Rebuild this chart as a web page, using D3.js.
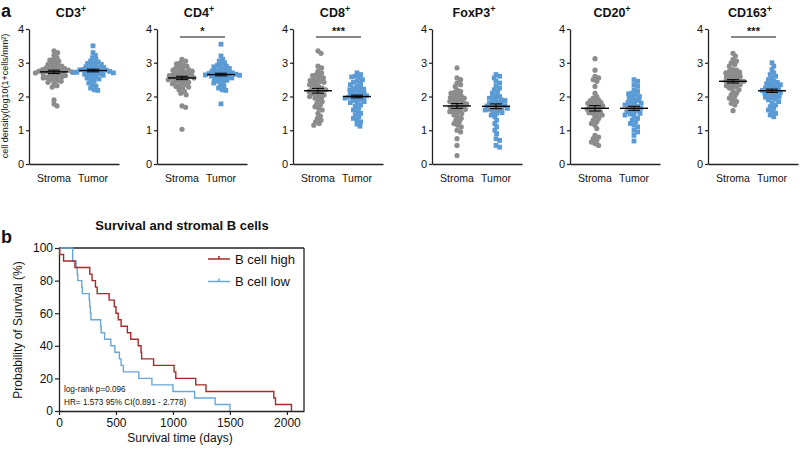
<!DOCTYPE html>
<html><head><meta charset="utf-8">
<script src="https://cdn.jsdelivr.net/npm/d3@7"></script>
<style>body{margin:0;background:#fff} svg{display:block} text{font-family:"Liberation Sans",Arial,sans-serif;fill:#111}</style>
</head><body><svg id="c" width="800" height="449"></svg>
<script>
// ---------- Panel a data ----------
const markers = ["CD3","CD4","CD8","FoxP3","CD20","CD163"];
const groups = ["Stroma","Tumor"];
const yTicksA = [0,1,2,3,4];
const cd3Stroma = [3.35,3.3,3.22,3.15,3.1,3.08,3.05,3.0,2.98,2.95,2.93,2.9,2.88,2.87,2.85,2.83,2.82,2.8,2.79,2.78,2.77,2.76,2.75,2.74,2.73,2.72,2.71,2.7,2.68,2.67,2.65,2.63,2.62,2.6,2.58,2.56,2.55,2.52,2.5,2.48,2.45,2.42,2.38,2.32,2.28,1.9,1.78,1.72];
const cd3Tumor = [3.5,3.3,3.22,3.15,3.1,3.05,3.02,3.0,2.98,2.95,2.92,2.9,2.88,2.86,2.85,2.83,2.82,2.8,2.79,2.78,2.77,2.76,2.75,2.74,2.73,2.72,2.71,2.7,2.69,2.68,2.66,2.65,2.63,2.6,2.58,2.55,2.52,2.5,2.45,2.4,2.35,2.3,2.25,2.2,2.18];
const cd4Stroma = [3.1,3.05,3.0,2.97,2.93,2.9,2.88,2.85,2.82,2.8,2.78,2.76,2.75,2.72,2.7,2.68,2.66,2.65,2.63,2.62,2.6,2.58,2.57,2.56,2.55,2.54,2.52,2.5,2.48,2.46,2.44,2.42,2.4,2.38,2.35,2.32,2.3,2.28,2.25,2.2,2.15,2.1,2.05,1.72,1.68,1.03];
const cd4Tumor = [3.55,3.2,3.1,3.05,3.0,2.95,2.92,2.9,2.88,2.85,2.83,2.8,2.78,2.76,2.75,2.73,2.72,2.7,2.69,2.68,2.67,2.66,2.65,2.64,2.63,2.62,2.6,2.6,2.58,2.56,2.55,2.53,2.5,2.48,2.45,2.42,2.4,2.35,2.3,2.25,2.2,2.18,1.78];
const cd8Stroma = [3.35,3.28,2.9,2.85,2.75,2.7,2.65,2.62,2.6,2.55,2.52,2.5,2.48,2.45,2.42,2.4,2.38,2.35,2.3,2.28,2.25,2.22,2.2,2.18,2.15,2.12,2.1,2.08,2.05,2.02,2.0,1.97,1.95,1.9,1.85,1.8,1.75,1.7,1.65,1.6,1.5,1.42,1.35,1.3,1.25,1.2,1.15];
const cd8Tumor = [2.7,2.65,2.6,2.58,2.55,2.5,2.45,2.42,2.4,2.35,2.3,2.28,2.25,2.22,2.2,2.18,2.15,2.12,2.1,2.08,2.05,2.03,2.02,2.0,1.98,1.96,1.95,1.92,1.9,1.88,1.85,1.82,1.8,1.75,1.7,1.65,1.6,1.55,1.5,1.45,1.4,1.35,1.3,1.25,1.18,1.12];
const foxp3Stroma = [2.85,2.55,2.5,2.4,2.35,2.3,2.2,2.15,2.12,2.1,2.05,2.02,2.0,1.97,1.95,1.92,1.9,1.88,1.85,1.82,1.8,1.78,1.75,1.72,1.7,1.68,1.65,1.62,1.6,1.58,1.55,1.52,1.5,1.45,1.4,1.35,1.3,1.25,1.2,1.15,1.1,1.0,0.95,0.75,0.55,0.25];
const foxp3Tumor = [2.65,2.6,2.55,2.45,2.4,2.3,2.25,2.2,2.15,2.1,2.05,2.0,1.98,1.95,1.92,1.9,1.88,1.85,1.82,1.8,1.78,1.75,1.73,1.72,1.7,1.68,1.66,1.65,1.63,1.62,1.6,1.58,1.55,1.52,1.5,1.45,1.4,1.3,1.2,1.1,1.0,0.9,0.75,0.7,0.55,0.5];
const cd20Stroma = [3.12,2.78,2.6,2.55,2.5,2.45,2.3,2.1,2.0,1.95,1.9,1.88,1.85,1.82,1.8,1.78,1.75,1.72,1.7,1.68,1.65,1.62,1.6,1.58,1.55,1.52,1.5,1.48,1.45,1.4,1.35,1.3,1.25,1.2,1.15,1.05,0.85,0.8,0.75,0.7,0.65,0.6,0.55];
const cd20Tumor = [2.5,2.45,2.35,2.3,2.2,2.15,2.1,2.08,2.05,2.0,1.98,1.95,1.9,1.88,1.85,1.82,1.8,1.78,1.75,1.72,1.7,1.68,1.65,1.63,1.6,1.58,1.55,1.52,1.5,1.48,1.45,1.4,1.35,1.3,1.25,1.2,1.15,1.1,1.0,0.95,0.85,0.68];
const cd163Stroma = [3.28,3.2,3.1,3.05,3.0,2.95,2.9,2.8,2.78,2.75,2.72,2.7,2.68,2.65,2.62,2.6,2.58,2.55,2.52,2.5,2.48,2.46,2.45,2.42,2.4,2.38,2.35,2.32,2.3,2.28,2.25,2.2,2.15,2.1,2.05,2.0,1.95,1.9,1.85,1.8,1.75,1.58];
const cd163Tumor = [3.0,2.9,2.8,2.7,2.65,2.6,2.55,2.5,2.45,2.42,2.4,2.38,2.35,2.32,2.3,2.28,2.25,2.22,2.2,2.18,2.16,2.15,2.12,2.1,2.08,2.05,2.02,2.0,1.98,1.95,1.92,1.9,1.85,1.8,1.75,1.7,1.65,1.6,1.55,1.5,1.45,1.4];
const stromaMeans = [2.73,2.55,2.17,1.72,1.65,2.45];
const tumorMeans = [2.77,2.65,2.0,1.71,1.65,2.17];
const stromaSem = [0.05,0.05,0.07,0.07,0.08,0.05];
const tumorSem = [0.04,0.04,0.04,0.07,0.06,0.05];
const significance = ["","*","***","","","***"];

// ---------- Panel b data ----------
const highTimes = [0,6,40,140,270,290,320,335,440,485,500,520,545,600,630,695,720,725,830,1010,1025,1200,1290,1885,1900,2040];
const highSurv  = [100,96,92,88,84,80,76,72,68,64,60,56,52,48,44,40,36,32,28,24,20,16,12,8,4,0];
const lowTimes = [0,120,150,160,165,200,205,265,270,275,280,365,370,400,455,490,530,545,565,700,815,1000,1190,1370,1500];
const lowSurv  = [100,92,88,84,80,76,72,68,64,60,56,52,48,44,40,36,32,28,24,20,16,12,8,4,0];
const kmXTicks = [0,500,1000,1500,2000];
const kmYTicks = [0,20,40,60,80,100];
const kmSeries = ["B cell high","B cell low"];

// ---------- Drawing ----------
const svg = d3.select("#c");
const greyC = "#8c8c8c", blueC = "#5b9bd5", redC = "#a52a2a", kmBlue = "#6aa6d6";
const stromaSets = [cd3Stroma,cd4Stroma,cd8Stroma,foxp3Stroma,cd20Stroma,cd163Stroma];
const tumorSets = [cd3Tumor,cd4Tumor,cd8Tumor,foxp3Tumor,cd20Tumor,cd163Tumor];
const axisXs = [29,157,293,432,570,708];
const fmt = d3.format("d");

const yA = d3.scaleLinear().domain([0,4]).range([164,29]);

function swarm(vals, minD) {
  const pts = vals.map(v => ({v, y: yA(v)})).sort((a,b) => a.y - b.y);
  const placed = [];
  for (const p of pts) {
    p.x = 0;
    for (let i = 0; i < 200; i++) {
      const off = i === 0 ? 0 : Math.ceil(i/2) * (i % 2 ? 1 : -1) * 0.6;
      if (placed.every(q => (q.x-off)**2 + (q.y-p.y)**2 >= minD*minD)) { p.x = off; break; }
    }
    placed.push(p);
  }
  return placed;
}

svg.append("text").attr("x",1).attr("y",17).style("font-size","18px").style("font-weight","bold").text("a");
svg.append("text").attr("transform","translate(8,96) rotate(-90)").attr("text-anchor","middle")
  .style("font-size","9px").text("cell density(log10(1+cells/mm²)");

markers.forEach((m,i) => {
  const x0 = axisXs[i];
  const xb = d3.scalePoint().domain(groups).range([x0+25, x0+64]);
  const g = svg.append("g");
  const ya = g.append("g").attr("transform",`translate(${x0},0)`).call(d3.axisLeft(yA).tickValues(yTicksA).tickFormat(fmt).tickSize(3).tickSizeOuter(0).tickPadding(2));
  ya.select(".domain").attr("stroke","#222").attr("stroke-width",1.3);
  ya.selectAll(".tick line").attr("stroke","#222").attr("stroke-width",1.2);
  ya.selectAll("text").style("font-size","11px").style("font-family","Liberation Sans, Arial, sans-serif").attr("fill","#111");
  const xa = g.append("g").attr("transform",`translate(0,164)`).call(d3.axisBottom(d3.scaleLinear().domain([0,1]).range([x0,x0+90])).tickValues([]).tickSizeOuter(0));
  xa.select(".domain").attr("stroke","#222").attr("stroke-width",1.3);
  groups.forEach(gr => g.append("text").attr("x",xb(gr)).attr("y",182).attr("text-anchor","middle").style("font-size","10.5px").text(gr));
  const t = g.append("text").attr("x",x0+42).attr("y",17).attr("text-anchor","middle").style("font-size","12.5px").style("font-weight","bold");
  t.append("tspan").text(m);
  t.append("tspan").attr("dy",-5).style("font-size","9px").text("+");
  const sets = [stromaSets[i], tumorSets[i]];
  sets.forEach((vals, k) => {
    const cx = xb(groups[k]);
    const pts = swarm(vals, 3.6);
    if (k === 0) {
      g.selectAll(null).data(pts).join("circle").attr("cx",d=>cx+d.x).attr("cy",d=>d.y).attr("r",2.6).attr("fill",greyC);
    } else {
      g.selectAll(null).data(pts).join("rect").attr("x",d=>cx+d.x-2.4).attr("y",d=>d.y-2.4).attr("width",4.8).attr("height",4.8).attr("fill",blueC);
    }
    const mean = k === 0 ? stromaMeans[i] : tumorMeans[i];
    const sem = k === 0 ? stromaSem[i] : tumorSem[i];
    g.append("line").attr("x1",cx-14).attr("x2",cx+14).attr("y1",yA(mean)).attr("y2",yA(mean)).attr("stroke","#000").attr("stroke-width",1.4);
    g.append("line").attr("x1",cx).attr("x2",cx).attr("y1",yA(mean+sem)).attr("y2",yA(mean-sem)).attr("stroke","#000").attr("stroke-width",1);
    [mean+sem, mean-sem].forEach(v => g.append("line").attr("x1",cx-6).attr("x2",cx+6).attr("y1",yA(v)).attr("y2",yA(v)).attr("stroke","#000").attr("stroke-width",1));
  });
  if (significance[i]) {
    g.append("line").attr("x1",xb("Stroma")-2).attr("x2",xb("Tumor")+4).attr("y1",37).attr("y2",37).attr("stroke","#111").attr("stroke-width",1.1);
    g.append("text").attr("x",(xb("Stroma")+xb("Tumor"))/2+1).attr("y",35).attr("text-anchor","middle").style("font-size","11px").style("font-weight","bold").text(significance[i]);
  }
});

// ---------- Panel b ----------
svg.append("text").attr("x",1).attr("y",243).style("font-size","18px").style("font-weight","bold").text("b");
svg.append("text").attr("x",182).attr("y",230).attr("text-anchor","middle").style("font-size","13px").style("font-weight","bold").text("Survival and stromal B cells");

const xK = d3.scaleLinear().domain([0,2150]).range([59,304]);
const yK = d3.scaleLinear().domain([0,100]).range([411,248]);
const kb = svg.append("g");
const xAxK = kb.append("g").attr("transform","translate(0,411)").call(d3.axisBottom(xK).tickValues(kmXTicks).tickFormat(fmt).tickSize(4).tickSizeOuter(0).tickPadding(3));
const yAxK = kb.append("g").attr("transform","translate(59,0)").call(d3.axisLeft(yK).tickValues(kmYTicks).tickFormat(fmt).tickSize(4).tickSizeOuter(0).tickPadding(2));
[xAxK,yAxK].forEach(a => {
  a.select(".domain").attr("stroke","#222").attr("stroke-width",1.3);
  a.selectAll(".tick line").attr("stroke","#222").attr("stroke-width",1.2);
  a.selectAll("text").style("font-size","12px").style("font-family","Liberation Sans, Arial, sans-serif").attr("fill","#111");
});
kb.append("line").attr("x1",xK(0)).attr("x2",xK(2150)).attr("y1",yK(100)).attr("y2",yK(100)).attr("stroke","#222").attr("stroke-width",1.3);
kb.append("line").attr("x1",xK(2150)).attr("x2",xK(2150)).attr("y1",yK(100)).attr("y2",yK(0)).attr("stroke","#222").attr("stroke-width",1.3);

const stepLine = d3.line().x(d=>xK(d[0])).y(d=>yK(d[1])).curve(d3.curveStepAfter);
const low = lowTimes.map((t,i)=>[t,lowSurv[i]]);
const high = highTimes.map((t,i)=>[t,highSurv[i]]);
kb.append("path").attr("d",stepLine(low)).attr("fill","none").attr("stroke",kmBlue).attr("stroke-width",1.4);
kb.append("path").attr("d",stepLine(high)).attr("fill","none").attr("stroke",redC).attr("stroke-width",1.4);

svg.append("text").attr("x",22).attr("y",330).attr("transform","rotate(-90,22,330)").attr("text-anchor","middle").style("font-size","12px").text("Probability of Survival (%)");
svg.append("text").attr("x",180).attr("y",442).attr("text-anchor","middle").style("font-size","12px").text("Survival time (days)");

kmSeries.forEach((s,i) => {
  const y = 259 + i*22.5;
  const c = i === 0 ? redC : kmBlue;
  svg.append("line").attr("x1",208).attr("x2",230).attr("y1",y).attr("y2",y).attr("stroke",c).attr("stroke-width",1.5);
  svg.append("line").attr("x1",219).attr("x2",219).attr("y1",y-3).attr("y2",y).attr("stroke",c).attr("stroke-width",1.5);
  svg.append("text").attr("x",235).attr("y",y+4.5).style("font-size","13px").text(s);
});
svg.append("text").attr("x",64).attr("y",392).style("font-size","8.2px").text("log-rank p=0.096");
svg.append("text").attr("x",64).attr("y",405).style("font-size","8.2px").text("HR= 1.573 95% CI(0.891 - 2.778)");
</script></body></html>
